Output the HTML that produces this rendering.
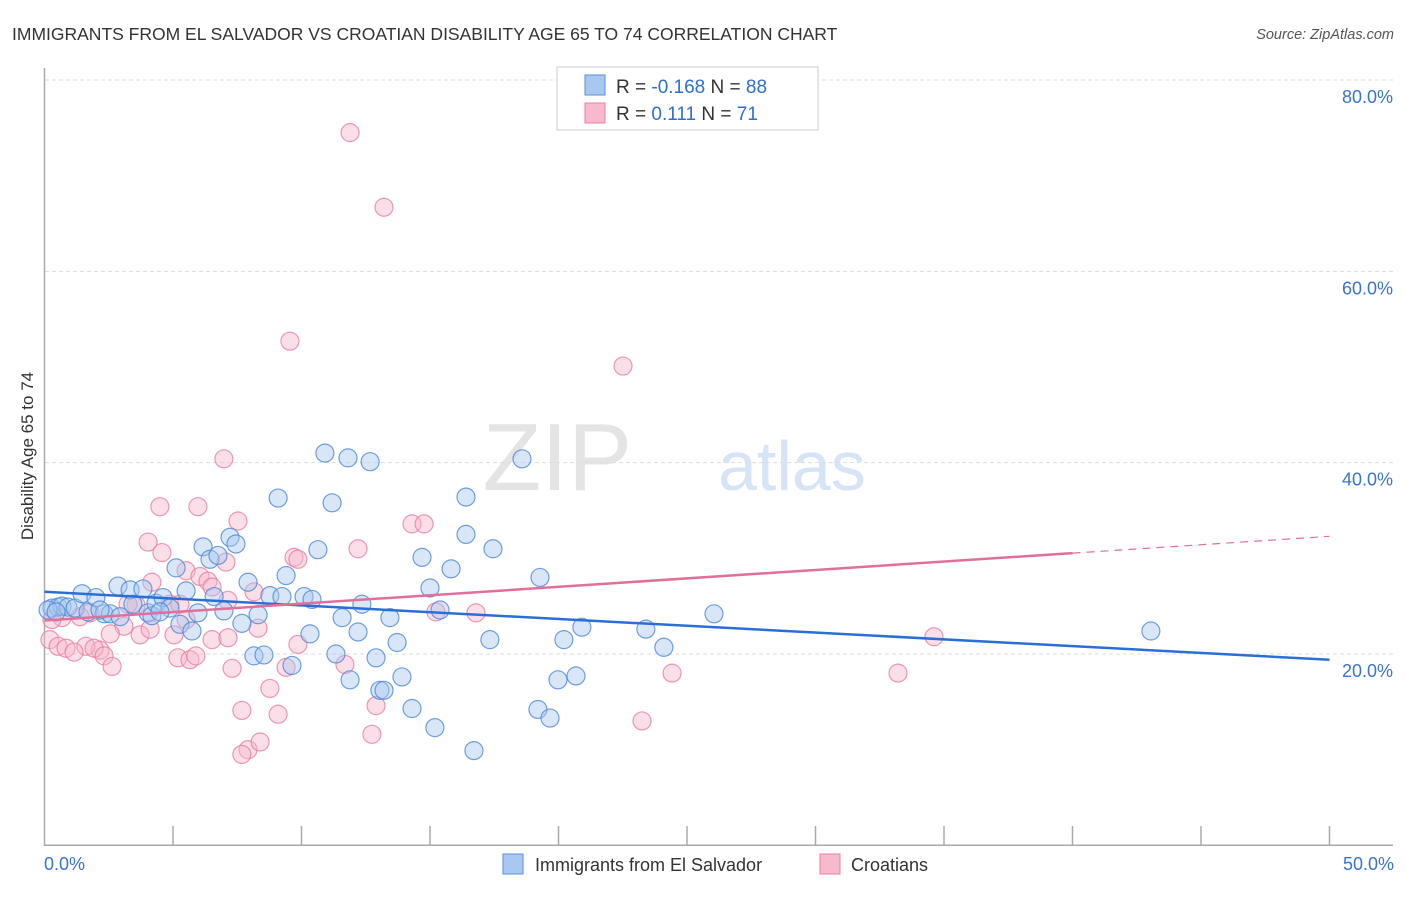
<!DOCTYPE html>
<html><head><meta charset="utf-8"><style>
body{margin:0;background:#fff;font-family:"Liberation Sans",sans-serif;}
svg text{font-family:"Liberation Sans",sans-serif;}
</style></head><body>
<svg id="chart" width="1406" height="892" xmlns="http://www.w3.org/2000/svg">
<text x="12" y="40" font-size="17.5" fill="#333">IMMIGRANTS FROM EL SALVADOR VS CROATIAN DISABILITY AGE 65 TO 74 CORRELATION CHART</text>
<text x="1394" y="39" font-size="14.5" fill="#555" text-anchor="end" font-style="italic">Source: ZipAtlas.com</text>
<g>
<text x="632" y="490" font-size="96" fill="#e4e4e4" text-anchor="end" font-family="Liberation Serif, serif">ZIP</text>
<text x="718" y="490" font-size="70" fill="#d6e4f5">atlas</text>
</g>
<g id="grid"></g>
<g id="axes"></g>
<g id="pts"></g>
<g id="lines"></g>
<text transform="translate(33,456) rotate(-90)" font-size="17" fill="#333" text-anchor="middle">Disability Age 65 to 74</text>
<g>
<rect x="557" y="67" width="261" height="63" fill="#fff" stroke="#ccc"/>
<rect x="585" y="75" width="20" height="20" fill="#a9c8f0" stroke="#5a8fdc"/>
<rect x="585" y="103" width="20" height="20" fill="#f7b9cb" stroke="#e8809f"/>
<text x="616" y="93" font-size="19" fill="#333">R = <tspan fill="#2f6fd0">-0.168</tspan>   N = <tspan fill="#2f6fd0">88</tspan></text>
<text x="616" y="120" font-size="19" fill="#333">R =   <tspan fill="#2f6fd0">0.111</tspan>   N =  <tspan fill="#2f6fd0">71</tspan></text>
</g>
<g>
<rect x="503" y="854" width="20" height="20" fill="#a9c8f0" stroke="#5a8fdc"/>
<text x="535" y="871" font-size="18" fill="#333">Immigrants from El Salvador</text>
<rect x="820" y="854" width="20" height="20" fill="#f7b9cb" stroke="#e8809f"/>
<text x="851" y="871" font-size="18" fill="#333">Croatians</text>
</g>
</svg>
<script>
const blueX=[0.29,0.53,0.68,0.91,1.19,1.46,1.69,2.00,2.32,2.56,2.86,2.94,3.33,3.44,3.83,4.03,4.18,4.34,4.61,4.88,5.12,5.27,5.51,5.74,5.97,6.17,6.44,6.60,6.75,6.98,7.22,7.45,7.68,7.92,8.15,8.31,8.54,8.77,9.09,9.24,9.40,9.63,10.10,10.41,10.64,10.33,10.91,11.19,11.34,11.58,11.81,11.89,12.20,12.35,12.67,12.90,13.05,13.21,13.44,13.72,13.91,14.30,14.69,15.00,15.19,15.39,15.82,16.40,16.40,16.71,17.33,17.45,18.58,19.28,19.20,19.67,19.98,20.21,20.68,20.91,23.40,24.10,26.05,43.05,0.14,0.45,2.16,4.49];
const blueY=[24.8,24.9,25.0,24.9,24.8,26.3,24.4,25.9,24.2,24.2,27.1,23.9,26.7,25.2,26.8,24.3,24.0,25.3,25.9,24.8,29.0,23.1,26.6,22.4,24.3,31.2,29.9,26.0,30.3,24.5,32.2,31.5,23.2,27.5,19.8,24.1,19.9,26.1,36.3,26.0,28.2,18.8,26.0,25.7,30.9,22.1,41.0,35.8,20.0,23.8,40.5,17.3,22.3,25.2,40.1,19.6,16.2,16.2,23.8,21.2,17.6,14.3,30.1,26.9,12.3,24.6,28.9,36.4,32.5,9.9,21.5,31.0,40.4,28.0,14.2,13.3,17.3,21.5,17.7,22.8,22.6,20.7,24.2,22.4,24.6,24.4,24.6,24.4];
const pinkX=[11.89,13.21,9.55,22.51,6.98,4.49,5.97,7.53,4.03,4.57,14.30,14.77,12.20,9.71,9.86,5.51,6.05,6.36,6.52,4.18,7.06,8.15,4.88,5.27,3.56,3.25,3.09,2.56,2.16,1.61,1.77,1.38,0.68,0.29,0.21,0.53,0.84,1.15,1.93,2.32,2.63,3.72,4.11,5.04,5.51,5.19,5.66,5.89,6.52,7.14,7.30,8.31,8.77,7.68,9.09,7.92,7.68,8.39,9.40,9.86,11.69,12.90,12.74,15.23,16.79,23.25,24.42,33.21,34.61,7.14];
const pinkY=[74.5,66.7,52.7,50.1,40.4,35.4,35.4,33.9,31.7,30.6,33.6,33.6,31.0,30.1,29.9,28.7,28.1,27.6,27.0,27.5,29.6,26.5,25.2,25.2,25.1,25.2,22.9,22.1,20.4,20.8,24.3,23.9,23.8,23.6,21.5,20.8,20.6,20.2,20.6,19.8,18.7,22.0,22.6,22.0,23.6,19.6,19.4,19.8,21.5,21.7,18.5,22.7,16.4,14.1,13.7,10.0,9.5,10.8,18.6,21.0,18.9,14.6,11.6,24.4,24.3,13.0,18.0,18.0,21.8,25.6];
const blueTrend=[26.5,19.4];
const pinkTrend=[23.5,32.3];
const yTicks=[20,40,60,80];
const xTickVals=[0,5,10,15,20,25,30,35,40,45,50];
const NS="http://www.w3.org/2000/svg";
const sx=v=>44.5+v*25.7, sy=v=>845.3-v*9.566;
function mk(tag,attrs,parent){const e=document.createElementNS(NS,tag);for(const k in attrs)e.setAttribute(k,attrs[k]);document.getElementById(parent).appendChild(e);return e;}
yTicks.forEach(t=>{
 const g=mk('line',{x1:45,x2:1393,y1:sy(t),y2:sy(t),stroke:'#ddd','stroke-dasharray':'4,3'},'grid');
 
 
 const l=mk('text',{x:1393,y:sy(t)+23,'font-size':18,fill:'#3a73d0','text-anchor':'end'},'grid');
 l.textContent=t.toFixed(1)+'%';
 
 
});
const ax=mk('path',{d:`M44.5,68 V845.3 H1393`,stroke:'#aaa',fill:'none','stroke-width':1.5},'axes');


xTickVals.forEach(t=>{
 if(t===0)return;
 const tk=mk('line',{x1:sx(t),x2:sx(t),y1:826,y2:845,stroke:'#aaa','stroke-width':1.5},'axes');
 
 
});
[[0,'start',44],[50,'end',1394]].forEach(([v,a,x])=>{
 const l=mk('text',{x:x,y:870,'font-size':18,fill:'#3a73d0','text-anchor':a},'axes');
 l.textContent=v.toFixed(1)+'%';
 
 
});
function pts(X,Y,fill,stroke,name){
 X.forEach((x,i)=>{
  const c=mk('circle',{cx:sx(x),cy:sy(Y[i]),r:9,fill:fill,'fill-opacity':0.45,stroke:stroke,'stroke-width':1.2,'stroke-opacity':0.8},'pts');
  
  
 });
}
pts(pinkX,pinkY,'#f7b9cb','#e8809f','croatian-point');
pts(blueX,blueY,'#a9c8f0','#4f87d8','el-salvador-point');
const bl=mk('line',{x1:sx(0),y1:sy(blueTrend[0]),x2:sx(50),y2:sy(blueTrend[1]),stroke:'#2a6fd6','stroke-width':2.5},'lines');


const pm=v=>pinkTrend[0]+(pinkTrend[1]-pinkTrend[0])*v/50;
const pl=mk('line',{x1:sx(0),y1:sy(pm(0)),x2:sx(40),y2:sy(pm(40)),stroke:'#e0709a','stroke-width':2.5},'lines');


const pd=mk('line',{x1:sx(40),y1:sy(pm(40)),x2:sx(50),y2:sy(pm(50)),stroke:'#e0709a','stroke-width':1.2,'stroke-dasharray':'8,6'},'lines');


</script>
</body></html>
